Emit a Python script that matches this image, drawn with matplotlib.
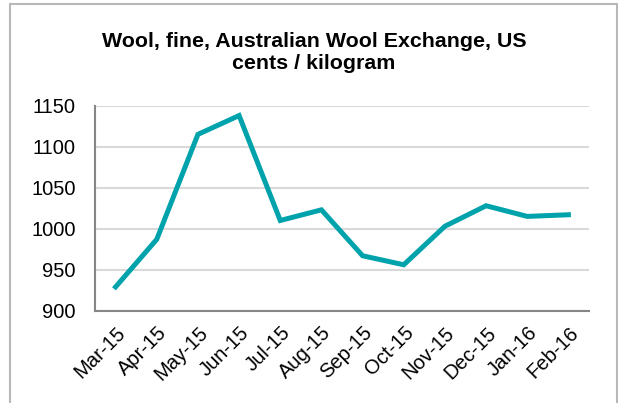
import matplotlib
matplotlib.use("Agg")
import matplotlib.pyplot as plt
from matplotlib.patches import Rectangle

# Data
months = ["Mar-15", "Apr-15", "May-15", "Jun-15", "Jul-15", "Aug-15",
          "Sep-15", "Oct-15", "Nov-15", "Dec-15", "Jan-16", "Feb-16"]
prices = [929, 987, 1115, 1138, 1010, 1023, 967, 956, 1003, 1028, 1015, 1017]
yticks = [900, 950, 1000, 1050, 1100, 1150]

plt.rcParams['font.family'] = ['Liberation Sans', 'DejaVu Sans']

fig = plt.figure(figsize=(6.18, 4.03), dpi=100)
ax = fig.add_axes([95/618, 1 - 310.7/403, 494/618, 205/403])

# outer chart border
fig.patches.append(Rectangle((10/618, -0.05), 607/618, 1.05 - 4/403,
                             transform=fig.transFigure, fill=False,
                             edgecolor='#b8b8b8', linewidth=1.5))

x = list(range(len(months)))
ax.plot(x, prices, color='#00A3AC', linewidth=3.6, solid_joinstyle='miter', zorder=3)

ax.set_xlim(-0.5, len(months) - 0.5)
ax.set_ylim(900, 1150)
ax.set_yticks(yticks)
ax.set_yticklabels([str(v) for v in yticks], fontsize=14.5)
ax.set_xticks(x)
ax.set_xticklabels(months, fontsize=14.5, rotation=45, ha='right',
                   rotation_mode='anchor')
ax.tick_params(axis='both', length=0)
ax.tick_params(axis='x', pad=9)
ax.tick_params(axis='y', pad=14)

ax.grid(axis='y', color='#d9d9d9', linewidth=1.5)
ax.set_axisbelow(True)
for s in ['top', 'right']:
    ax.spines[s].set_visible(False)
for s in ['left', 'bottom']:
    ax.spines[s].set_color('#868686')
    ax.spines[s].set_linewidth(1.5)

fig.text(314/618, 1 - 47/403, "Wool, fine, Australian Wool Exchange, US",
         ha='center', va='baseline', fontsize=15.4, fontweight='bold')
fig.text(314/618, 1 - 69/403, "cents / kilogram",
         ha='center', va='baseline', fontsize=15.4, fontweight='bold')

fig.savefig("out.png", dpi=100)
